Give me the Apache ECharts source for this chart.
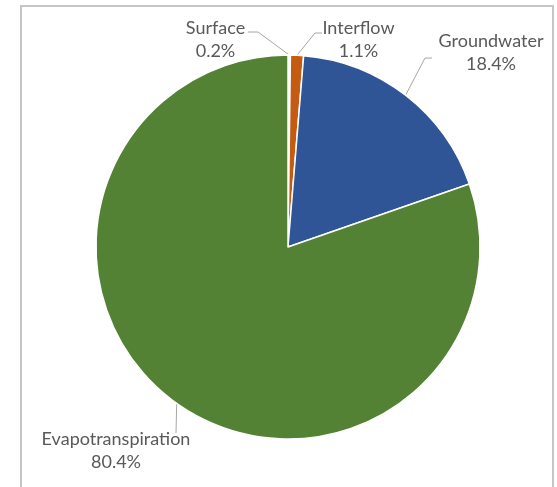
<!DOCTYPE html>
<html>
<head>
<meta charset="utf-8">
<script src="https://cdn.jsdelivr.net/npm/echarts@6/dist/echarts.min.js"></script>
<style>
  html, body { margin: 0; padding: 0; background: #ffffff; }
  #chart { width: 557px; height: 487px; }
</style>
</head>
<body>
<div id="chart"></div>
<script>
// Water balance components, percent of total
const categories = ['Surface', 'Interflow', 'Groundwater', 'Evapotranspiration'];
const shares = [0.2, 1.1, 18.4, 80.4];
const sliceColors = ['#f2f2f2', '#c55a11', '#2f5597', '#548235'];

// Where each label block sits and how its leader line bends
const labelPlacement = [
  { cx: 215.5, cy: 39.5, bend: [[258, 32], [248, 32]] },
  { cx: 358.5, cy: 40, bend: [[315, 33], [322, 33]] },
  { cx: 491, cy: 53, bend: [[425, 58], [432, 58]] },
  { cx: 116, cy: 451, bend: [[176, 433]] }
];

const chart = echarts.init(document.getElementById('chart'), null, { renderer: 'canvas' });

const data = categories.map((name, i) => ({
  name: name,
  value: shares[i],
  itemStyle: { color: sliceColors[i] }
}));

chart.setOption({
  animation: false,
  backgroundColor: '#ffffff',
  graphic: [{
    type: 'rect',
    shape: { x: 21, y: 6, width: 532, height: 500 },
    style: { fill: 'none', stroke: '#c6c6c6', lineWidth: 2 },
    silent: true
  }],
  series: [{
    type: 'pie',
    center: [288, 247],
    radius: [0, 192],
    startAngle: 90,
    clockwise: true,
    data: data,
    itemStyle: { borderColor: '#ffffff', borderWidth: 1.5 },
    label: {
      show: true,
      formatter: '{b}\n{c}%',
      color: '#595959',
      fontFamily: 'Lato',
      fontSize: 18,
      lineHeight: 23,
      align: 'center',
      overflow: 'none',
      edgeDistance: 0
    },
    labelLine: {
      show: true,
      lineStyle: { color: '#a6a6a6', width: 1 }
    },
    labelLayout: function (params) {
      const p = labelPlacement[params.dataIndex];
      const anchor = params.labelLinePoints ? params.labelLinePoints[0] : null;
      const out = {
        x: p.cx,
        y: p.cy,
        align: 'center',
        verticalAlign: 'middle'
      };
      if (anchor) {
        out.labelLinePoints = [anchor].concat(p.bend);
      }
      return out;
    }
  }]
});
</script>
</body>
</html>
